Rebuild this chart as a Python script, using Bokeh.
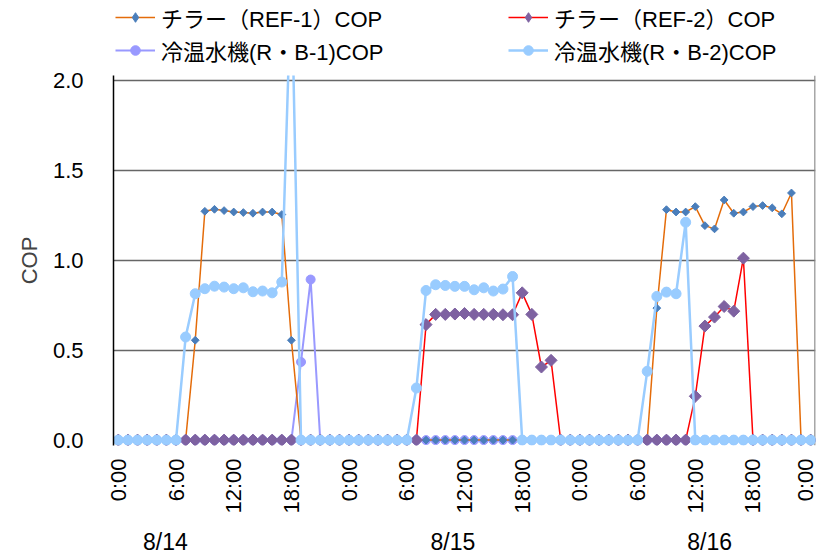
from bokeh.plotting import figure
from bokeh.layouts import column
from bokeh.models import Range1d, FixedTicker, Legend, LegendItem, Span, LinearAxis
from bokeh.embed import file_html
from bokeh.resources import INLINE
import math

# ---- data (hourly, 8/14 0:00 .. 8/17 0:00) ----
hours = list(range(73))

ref1_cop = [
    0, 0, 0, 0, 0, 0, 0, 0, 0.556, 1.274, 1.285, 1.278, 1.270, 1.267, 1.263, 1.270, 1.270, 1.256, 0.556, 0, 0, 0, 0, 0,
    0, 0, 0, 0, 0, 0, 0, 0, 0, 0, 0, 0, 0, 0, 0, 0, 0, 0, 0, 0, 0, 0, 0, 0,
    0, 0, 0, 0, 0, 0, 0, 0, 0.735, 1.283, 1.270, 1.270, 1.300, 1.194, 1.176, 1.337, 1.263, 1.270, 1.300, 1.306, 1.293, 1.260, 1.376, 0,
    0,
]
ref2_cop = [
    0, 0, 0, 0, 0, 0, 0, 0, 0, 0, 0, 0, 0, 0, 0, 0, 0, 0, 0, 0, 0, 0, 0, 0,
    0, 0, 0, 0, 0, 0, 0, 0, 0.643, 0.700, 0.700, 0.702, 0.705, 0.700, 0.700, 0.700, 0.698, 0.698, 0.820, 0.700, 0.407, 0.444, 0, 0,
    0, 0, 0, 0, 0, 0, 0, 0, 0, 0, 0, 0, 0.244, 0.635, 0.685, 0.744, 0.718, 1.013, 0, 0, 0, 0, 0, 0,
    0,
]
rb1_cop = [
    0, 0, 0, 0, 0, 0, 0, 0, 0, 0, 0, 0, 0, 0, 0, 0, 0, 0, 0, 0.435, 0.894, 0, 0, 0,
    0, 0, 0, 0, 0, 0, 0, 0, 0, 0, 0, 0, 0, 0, 0, 0, 0, 0, 0, 0, 0, 0, 0, 0,
    0, 0, 0, 0, 0, 0, 0, 0, 0, 0, 0, 0, 0, 0, 0, 0, 0, 0, 0, 0, 0, 0, 0, 0,
    0,
]
rb2_cop = [
    0, 0, 0, 0, 0, 0, 0, 0.574, 0.815, 0.843, 0.857, 0.852, 0.843, 0.848, 0.826, 0.830, 0.820, 0.880, 2.60, 0, 0, 0, 0, 0,
    0, 0, 0, 0, 0, 0, 0, 0.290, 0.833, 0.865, 0.861, 0.856, 0.856, 0.837, 0.848, 0.830, 0.841, 0.911, 0, 0, 0, 0, 0, 0,
    0, 0, 0, 0, 0, 0, 0, 0.383, 0.800, 0.824, 0.815, 1.213, 0, 0, 0, 0, 0, 0, 0, 0, 0, 0, 0, 0,
    0,
]

series_names = ["チラー（REF-1）COP", "チラー（REF-2）COP", "冷温水機(R・B-1)COP", "冷温水機(R・B-2)COP"]

x_tick_hours = [0, 6, 12, 18, 24, 30, 36, 42, 48, 54, 60, 66, 72]
x_tick_labels = ["0:00", "6:00", "12:00", "18:00", "0:00", "6:00", "12:00", "18:00",
                 "0:00", "6:00", "12:00", "18:00", "0:00"]
y_ticks = [0, 0.5, 1.0, 1.5, 2.0]
y_tick_labels = ["0.0", "0.5", "1.0", "1.5", "2.0"]
date_labels = ["8/14", "8/15", "8/16"]
date_label_hours = [4.9, 34.8, 61.5]

TICK_FONT = "Liberation Sans"

# series styles
STYLE = {
    "ref1": dict(line_color="#E46C0A", line_width=1.5, marker="square", angle=math.pi / 4, size=5.5, color="#4A7EBB"),
    "ref2": dict(line_color="#FF0000", line_width=1.5, marker="square", angle=math.pi / 4, size=8.5, color="#7E62A1"),
    "rb1": dict(line_color="#9999FF", line_width=2.0, marker="circle", angle=0, size=9, color="#9999FF"),
    "rb2": dict(line_color="#99CCFF", line_width=2.5, marker="circle", angle=0, size=10, color="#99CCFF"),
}

# ---- main figure ----
p = figure(width=817, height=492, output_backend="svg", toolbar_location=None,
           x_range=Range1d(-0.5, 72.5), y_range=Range1d(-0.03, 2.03),
           min_border_left=113, min_border_right=2, min_border_top=9, min_border_bottom=113)
p.outline_line_color = None
p.background_fill_color = "white"
p.border_fill_color = "white"
p.xgrid.visible = False
p.ygrid.ticker = FixedTicker(ticks=[0.5, 1.0, 1.5, 2.0])
p.ygrid.grid_line_color = "#666666"
p.ygrid.grid_line_width = 1.5

p.yaxis.ticker = FixedTicker(ticks=y_ticks)
p.yaxis.major_label_overrides = dict(zip(y_ticks, y_tick_labels))
p.yaxis.major_tick_out = 0
p.yaxis.major_tick_in = 0
p.yaxis.minor_tick_out = 0
p.yaxis.minor_tick_in = 0
p.yaxis.major_label_standoff = 30
p.yaxis.axis_line_color = "black"
p.yaxis.axis_line_width = 1.5
p.yaxis.axis_label = "COP"
p.yaxis.axis_label_text_font = TICK_FONT
p.yaxis.axis_label_text_font_size = "22px"
p.yaxis.axis_label_text_font_style = "normal"
p.yaxis.axis_label_standoff = 8
p.yaxis.major_label_text_font = TICK_FONT
p.yaxis.major_label_text_font_size = "22px"
p.yaxis.major_label_text_color = "black"

p.xaxis.ticker = FixedTicker(ticks=x_tick_hours)
p.xaxis.major_label_overrides = dict(zip(x_tick_hours, x_tick_labels))
p.xaxis.major_label_orientation = math.pi / 2
p.xaxis.major_tick_out = 0
p.xaxis.major_tick_in = 0
p.xaxis.minor_tick_out = 0
p.xaxis.minor_tick_in = 0
p.xaxis.axis_line_color = None
p.xaxis.major_label_standoff = 13
p.xaxis.major_label_text_font = TICK_FONT
p.xaxis.major_label_text_font_size = "22px"
p.xaxis.major_label_text_color = "black"

# date row as a second bottom axis
date_axis = LinearAxis(ticker=FixedTicker(ticks=date_label_hours),
                       major_label_overrides=dict(zip(date_label_hours, date_labels)),
                       axis_line_color=None, major_tick_in=0, major_tick_out=0,
                       minor_tick_in=0, minor_tick_out=0, major_label_standoff=12,
                       major_label_text_font=TICK_FONT, major_label_text_font_size="23px",
                       major_label_text_color="black")
p.add_layout(date_axis, "below")

# zero line and right border
p.add_layout(Span(location=0, dimension="width", line_color="#555555", line_width=1.5, level="underlay"))
p.add_layout(Span(location=72.45, dimension="height", line_color="#888888", line_width=1.5, level="underlay"))

def draw(fig, xs, ys, st):
    l = fig.line(xs, ys, line_color=st["line_color"], line_width=st["line_width"])
    m = fig.scatter(xs, ys, marker=st["marker"], angle=st["angle"], size=st["size"],
                    fill_color=st["color"], line_color=st["color"])
    return l, m

# draw order: RB-1, REF-1, REF-2, RB-2
draw(p, hours, rb1_cop, STYLE["rb1"])
draw(p, hours, ref1_cop, STYLE["ref1"])
draw(p, hours, ref2_cop, STYLE["ref2"])
draw(p, hours, rb2_cop, STYLE["rb2"])

# ---- legend strip (separate figure on top; proxy renderers hold a single NaN point) ----
lg = figure(width=817, height=66, output_backend="svg", toolbar_location=None,
            x_range=Range1d(0, 1), y_range=Range1d(0, 1),
            x_axis_location=None, y_axis_location=None,
            min_border_left=0, min_border_right=0, min_border_top=0, min_border_bottom=0)
lg.outline_line_color = None
lg.xgrid.visible = False
lg.ygrid.visible = False
nan = float("nan")
items = []
for name, key in zip(series_names, ["ref1", "ref2", "rb1", "rb2"]):
    st = STYLE[key]
    l = lg.line([nan], [nan], line_color=st["line_color"], line_width=st["line_width"])
    is_ref = key.startswith("ref")
    m = lg.scatter([nan], [nan], marker="diamond" if is_ref else "circle",
                   size=9 if is_ref else 7,
                   fill_color=st["color"], line_color=st["color"])
    items.append(LegendItem(label=name, renderers=[l, m]))

legend = Legend(items=items, location=(2, 0), orientation="horizontal", ncols=2)
legend.label_text_font = "Liberation Sans, Noto Sans CJK JP"
legend.label_text_font_size = "22px"
legend.label_text_color = "black"
legend.glyph_width = 40
legend.glyph_height = 24
legend.label_height = 24
legend.label_width = 346
legend.label_standoff = 6
legend.spacing = 1
legend.padding = 0
legend.margin = 0
legend.border_line_color = None
legend.background_fill_alpha = 0
lg.add_layout(legend)

layout = column(lg, p, spacing=0)
open("out.html", "w").write(file_html(layout, INLINE))
